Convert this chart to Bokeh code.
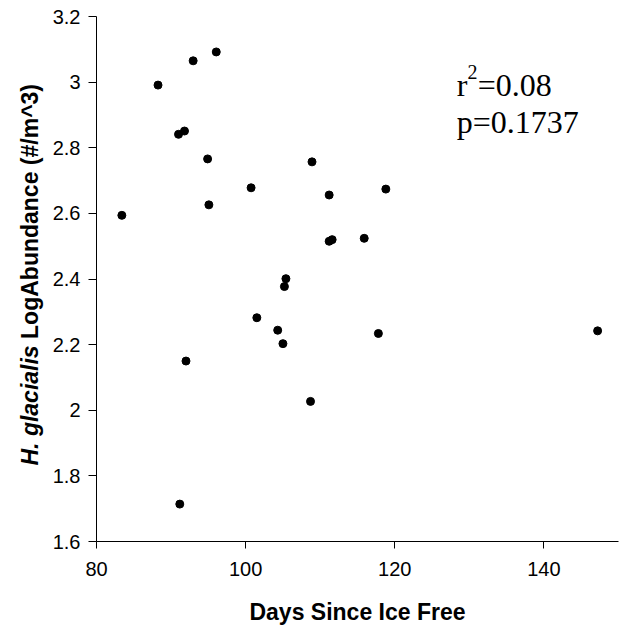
import math
from bokeh.plotting import figure
from bokeh.layouts import row
from bokeh.core.properties import value
from bokeh.models import (FixedTicker, CustomJSTickFormatter, Label,
                          ColumnDataSource, Range1d)
from bokeh.embed import file_html
from bokeh.resources import INLINE

# ---- data ----
days = [83.4, 88.25, 92.96, 96.06, 91.0, 91.8, 94.9, 100.73, 95.07,
        108.9, 111.2, 111.2, 111.6, 105.4, 105.2, 101.5, 104.3, 105.0,
        92.0, 108.7, 91.17, 118.8, 115.9, 117.8, 147.2]
log_abundance = [2.594, 2.991, 3.065, 3.092, 2.841, 2.851, 2.766, 2.678, 2.626,
                 2.757, 2.656, 2.515, 2.520, 2.401, 2.377, 2.282, 2.244, 2.203,
                 2.150, 2.027, 1.714, 2.674, 2.524, 2.234, 2.242]
x_ticks = [80, 100, 120, 140]
y_ticks = [1.6, 1.8, 2.0, 2.2, 2.4, 2.6, 2.8, 3.0, 3.2]
x_title = "Days Since Ice Free"
y_title_italic = "H. glacialis"
y_title_rest = "LogAbundance (#/m^3)"
r2_parts = ["r", "2", "=0.08"]
p_text = "p=0.1737"

H = 633
LEFT_W = 46
TOP, BOTTOM = 16, 92

# ---- narrow panel holding the two-style y-axis title ----
# its y coordinates are "pixels from the bottom of the page"
t = figure(width=LEFT_W, height=H, output_backend="svg", toolbar_location=None,
           x_range=Range1d(0, LEFT_W), y_range=Range1d(BOTTOM, H - TOP),
           min_border_left=0, min_border_right=0,
           min_border_top=TOP, min_border_bottom=BOTTOM)
t.axis.visible = False
t.grid.visible = False
t.outline_line_color = None
t.background_fill_color = "white"
t.border_fill_color = "white"

fs = 23
start_y = H - 465
t.text(x=[29], y=[start_y], text=[y_title_italic], angle=math.pi / 2,
       text_font=value("Liberation Sans"), text_font_style="bold italic",
       text_font_size=f"{fs}px", text_align="left", text_baseline="middle",
       text_color="black")
t.text(x=[29], y=[start_y + (5.225 + 0.278) * fs], text=[y_title_rest], angle=math.pi / 2,
       text_font=value("Liberation Sans"), text_font_style="bold",
       text_font_size=f"{fs}px", text_align="left", text_baseline="middle",
       text_color="black")

# ---- main scatter plot ----
src = ColumnDataSource(data=dict(days=days, abund=log_abundance))

p = figure(width=625 - LEFT_W, height=H, output_backend="svg", toolbar_location=None,
           x_range=Range1d(80, 150), y_range=Range1d(1.6, 3.2),
           min_border_left=96 - LEFT_W, min_border_right=7,
           min_border_top=TOP, min_border_bottom=BOTTOM)
p.outline_line_color = None
p.xgrid.visible = False
p.ygrid.visible = False
p.background_fill_color = "white"
p.border_fill_color = "white"

p.scatter(x="days", y="abund", source=src, size=8, color="black")

for ax in (p.xaxis[0], p.yaxis[0]):
    ax.axis_line_color = "black"
    ax.axis_line_width = 1
    ax.major_tick_line_color = "black"
    ax.major_tick_in = 0
    ax.major_tick_out = 7
    ax.minor_tick_line_color = None
    ax.major_label_text_font = "Liberation Sans"
    ax.major_label_text_font_size = "20px"
    ax.major_label_text_color = "black"

p.xaxis[0].ticker = FixedTicker(ticks=x_ticks)
p.yaxis[0].ticker = FixedTicker(ticks=y_ticks)
p.yaxis[0].formatter = CustomJSTickFormatter(code="return String(Math.round(tick*10)/10);")
p.xaxis[0].major_label_standoff = 13
p.yaxis[0].major_label_standoff = 8
p.yaxis[0].major_tick_out = 8

p.xaxis[0].axis_label = x_title
p.xaxis[0].axis_label_text_font = "Liberation Sans"
p.xaxis[0].axis_label_text_font_style = "bold"
p.xaxis[0].axis_label_text_font_size = "23px"
p.xaxis[0].axis_label_text_color = "black"
p.xaxis[0].axis_label_standoff = 20

# statistics annotation
ann_x = 128.3
p.add_layout(Label(x=ann_x, y=2.99, text=r2_parts[0],
                   text_font="Liberation Serif", text_font_size="32px",
                   text_baseline="alphabetic", text_color="black"))
p.add_layout(Label(x=ann_x, y=2.99, x_offset=10.7, y_offset=13, text=r2_parts[1],
                   text_font="Liberation Serif", text_font_size="20px",
                   text_baseline="alphabetic", text_color="black"))
p.add_layout(Label(x=ann_x, y=2.99, x_offset=21, text=r2_parts[2],
                   text_font="Liberation Serif", text_font_size="32px",
                   text_baseline="alphabetic", text_color="black"))
p.add_layout(Label(x=ann_x, y=2.877, text=p_text,
                   text_font="Liberation Serif", text_font_size="32px",
                   text_baseline="alphabetic", text_color="black"))

layout = row(t, p, spacing=0)
open("out.html", "w").write(file_html(layout, INLINE))
